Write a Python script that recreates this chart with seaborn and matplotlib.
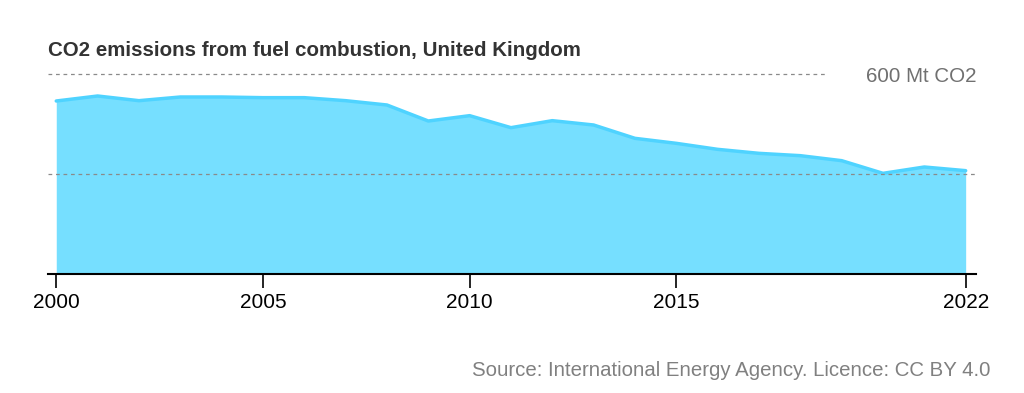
import matplotlib
matplotlib.use("Agg")
import matplotlib.pyplot as plt
import pandas as pd
import seaborn as sns

# Data (Mt CO2)
years = list(range(2000, 2023))
emissions = [519, 534, 520, 531, 531, 529, 529, 520, 507, 459, 475, 439,
             460, 447, 407, 392, 374, 362, 355, 340, 302, 321, 310]
tick_years = [2000, 2005, 2010, 2015, 2022]

df = pd.DataFrame({"year": years, "co2": emissions})

sns.set_style("white")
plt.rcParams["font.family"] = ["Liberation Sans", "DejaVu Sans"]

fig = plt.figure(figsize=(10.24, 3.93), dpi=100)
ax = fig.add_axes([48 / 1024, 1 - 274 / 393, 928 / 1024, 200 / 393])

line_color = "#4fd3ff"
fill_color = "#76dfff"

ax.fill_between(df["year"], df["co2"], 0, color=fill_color, linewidth=0, zorder=1)
sns.lineplot(data=df, x="year", y="co2", ax=ax, color=line_color, linewidth=2.5, zorder=2)

ax.set_xlim(1999.8, 2022.25)
ax.set_ylim(0, 600)

# dashed gridlines
ax.axhline(300, color="#8a8a8a", linestyle=(0, (3, 3)), linewidth=0.9, zorder=3)
ax.plot([1999.8, 2018.6], [600, 600], color="#8a8a8a", linestyle=(0, (3, 3)),
        linewidth=0.9, clip_on=False, zorder=3)
ax.text(2022.25, 600, "600 Mt CO2", ha="right", va="center_baseline", fontsize=14.8,
        color="#707070")

for s in ["top", "right", "left"]:
    ax.spines[s].set_visible(False)
ax.spines["bottom"].set_color("black")
ax.spines["bottom"].set_linewidth(1.5)

ax.set_xticks(tick_years)
ax.set_xticklabels([str(y) for y in tick_years], fontsize=15, color="black")
ax.tick_params(axis="x", direction="out", length=10, width=1.2, color="black", pad=4,
               bottom=True)
ax.set_yticks([])
ax.set_xlabel("")
ax.set_ylabel("")

fig.text(48 / 1024, 1 - 56 / 393, "CO2 emissions from fuel combustion, United Kingdom",
         fontsize=14.8, fontweight="bold", color="#333333", ha="left", va="baseline")
fig.text(990 / 1024, 1 - 376 / 393, "Source: International Energy Agency. Licence: CC BY 4.0",
         fontsize=14.7, color="#808080", ha="right", va="baseline")

fig.savefig("out.png", dpi=100)
